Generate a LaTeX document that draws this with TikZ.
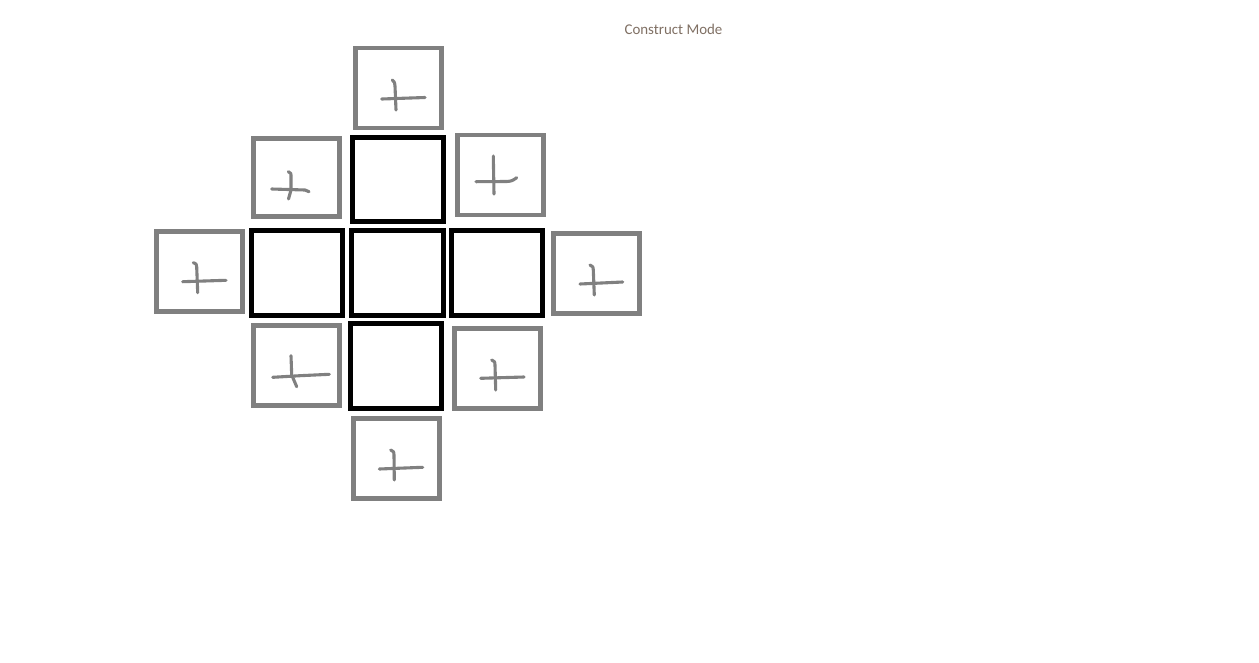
\documentclass[tikz,border=0pt]{standalone}
\usepackage{fontspec}
\newfontfamily\labelfont{Carlito}
\definecolor{boxgray}{RGB}{128,128,128}
\definecolor{labelcol}{RGB}{128,112,100}
\begin{document}
\begin{tikzpicture}[x=1pt,y=-1pt,
  solidbox/.style={draw=black,line width=5pt,fill=white},
  addbox/.style={draw=boxgray,line width=4.8pt,fill=white},
  plusmark/.style={draw=boxgray,line width=3.1pt,line cap=round,line join=round}]
\path[use as bounding box,fill=white] (0,0) rectangle (1259,662);
% black (placed) boxes
\node[solidbox,minimum width=91pt,minimum height=84pt,inner sep=0pt] (ctop) at (398,179.5) {};
\node[solidbox,minimum width=91pt,minimum height=85pt,inner sep=0pt] (cleft) at (297,273) {};
\node[solidbox,minimum width=92pt,minimum height=85pt,inner sep=0pt] (ccenter) at (397.5,273) {};
\node[solidbox,minimum width=91pt,minimum height=85pt,inner sep=0pt] (cright) at (497,273) {};
\node[solidbox,minimum width=91pt,minimum height=85pt,inner sep=0pt] (cbottom) at (396,366) {};
% gray (add) boxes
\node[addbox,minimum width=86.5pt,minimum height=80pt,inner sep=0pt] (gtop) at (398.5,88) {};
\node[addbox,minimum width=86.5pt,minimum height=78.5pt,inner sep=0pt] (gul) at (296.5,177.5) {};
\node[addbox,minimum width=86.5pt,minimum height=80pt,inner sep=0pt] (gur) at (500.5,175) {};
\node[addbox,minimum width=86.5pt,minimum height=80.5pt,inner sep=0pt] (gleft) at (199.5,271.5) {};
\node[addbox,minimum width=86.5pt,minimum height=80.5pt,inner sep=0pt] (gright) at (596.5,273.5) {};
\node[addbox,minimum width=86.5pt,minimum height=80.5pt,inner sep=0pt] (gll) at (296.5,365.5) {};
\node[addbox,minimum width=86.5pt,minimum height=80.5pt,inner sep=0pt] (glr) at (497.5,368.5) {};
\node[addbox,minimum width=86.5pt,minimum height=80.5pt,inner sep=0pt] (gbottom) at (396.5,458.5) {};
% hand-drawn plus marks
\draw[plusmark] (392.3,80) .. controls (394.5,82) .. (395,86) -- (396,110);
\draw[plusmark] (381.7,99) -- (425,97.5);
\draw[plusmark] (288.3,171.7) .. controls (291,173) .. (291,177) -- (291,190) -- (288.5,199);
\draw[plusmark] (271.7,189) -- (305,190) -- (309,191.7);
\draw[plusmark] (493.3,156) -- (494,194);
\draw[plusmark] (476,181.7) -- (506.7,181.5) .. controls (512,181) .. (516.7,177.7);
\draw[plusmark] (193.3,262.7) .. controls (196.5,264) .. (196.7,267) -- (197.7,292.7);
\draw[plusmark] (182.7,281.7) -- (226,280.3);
\draw[plusmark] (590,265) .. controls (593,266.5) .. (593.3,270) -- (594.3,295);
\draw[plusmark] (580,284) -- (622.7,282);
\draw[plusmark] (291,355.7) -- (291.7,375) -- (296.7,386.7);
\draw[plusmark] (272.7,377.3) -- (300,375.7) -- (329.3,374.3);
\draw[plusmark] (491.7,360) .. controls (494.8,361.5) .. (495,365) -- (495.7,390);
\draw[plusmark] (480.7,378.3) -- (524,377);
\draw[plusmark] (390.7,450) .. controls (393.8,451.5) .. (394,455) -- (394.3,480);
\draw[plusmark] (379.3,469) -- (422.7,467.3);
% title
\node[text=labelcol,font=\labelfont\fontsize{14.9pt}{17pt}\selectfont,inner sep=0pt] (title) at (673.5,29) {Construct Mode};
\end{tikzpicture}
\end{document}
